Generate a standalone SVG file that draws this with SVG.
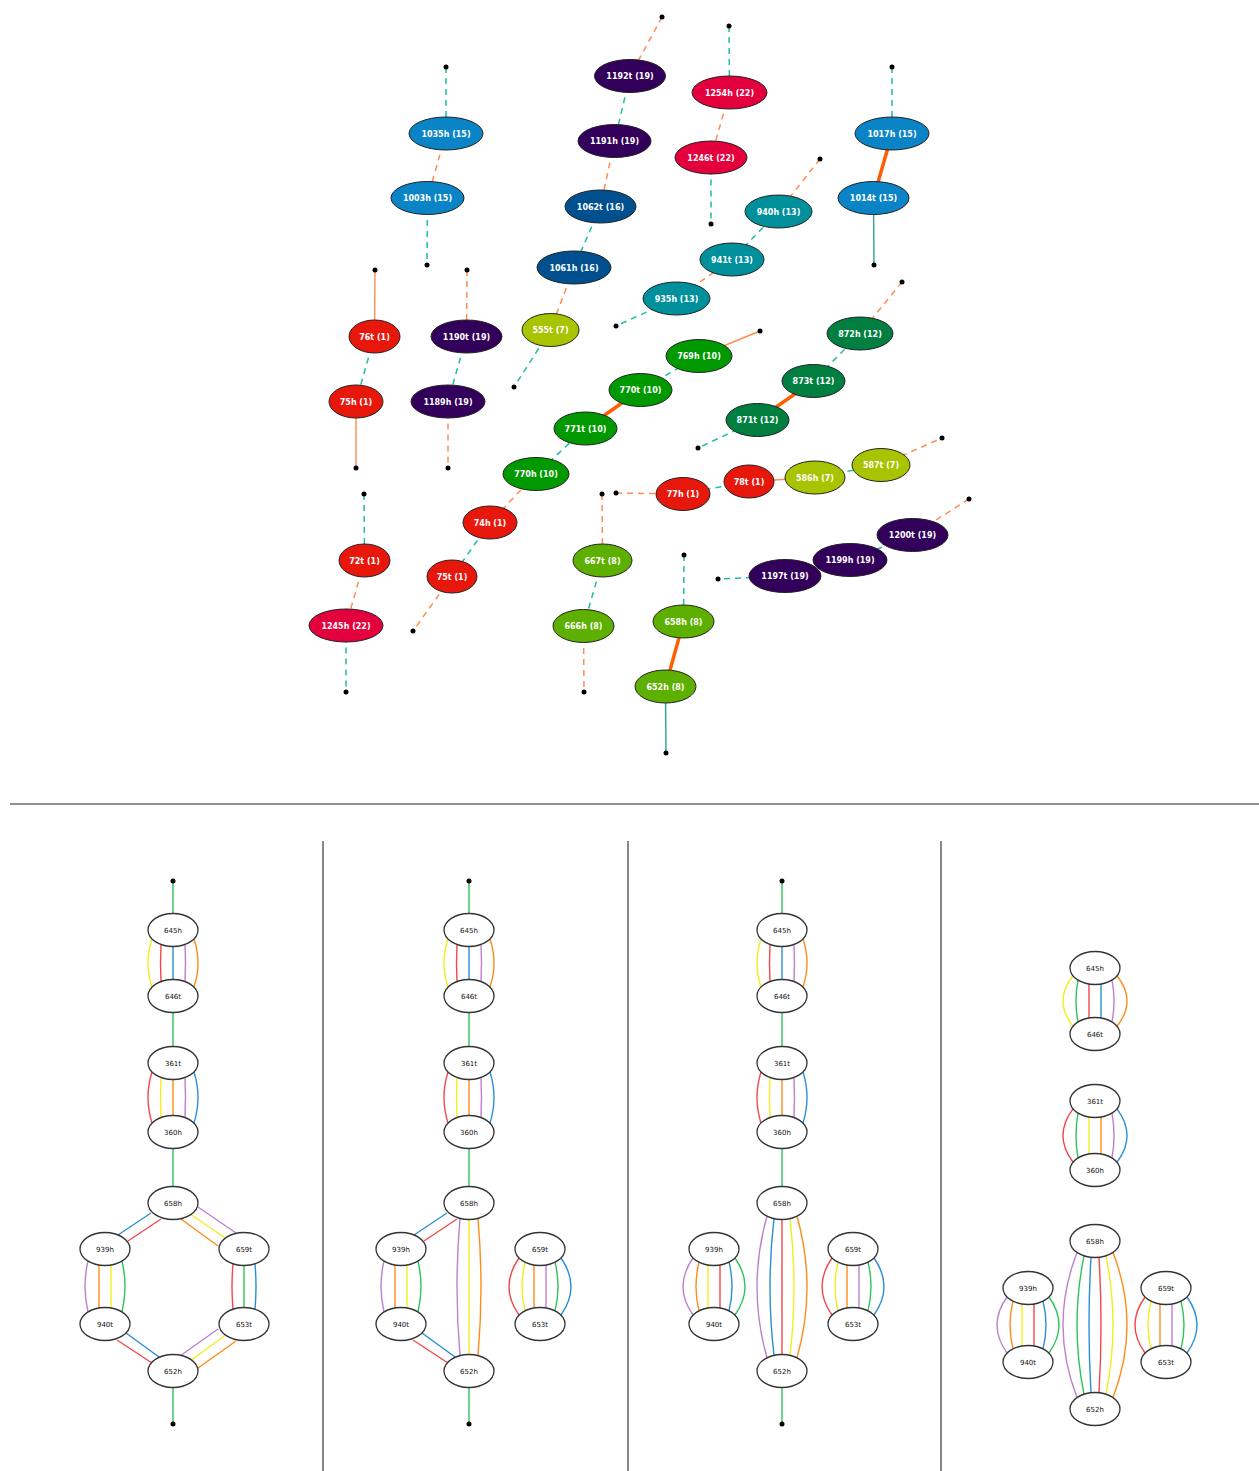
<svg xmlns="http://www.w3.org/2000/svg" width="1259" height="1471" viewBox="0 0 1259 1471">
<style>
.bg{fill:#fff}
.tn ellipse{stroke:#222;stroke-width:1}
.tn text{fill:#fff;font-family:"DejaVu Sans",sans-serif;font-weight:bold;font-size:8px;text-anchor:middle}
.c19{fill:#32005a}.c15{fill:#0a84c6}.c16{fill:#00508f}.c22{fill:#e4003c}.c13{fill:#00909c}
.c12{fill:#007f40}.c10{fill:#009a00}.c1{fill:#e8170c}.c7{fill:#a8c400}.c8{fill:#5eb000}
.od{stroke:#ff8c50;stroke-width:1.5;stroke-dasharray:6 5;fill:none}
.td{stroke:#1fbf9f;stroke-width:1.5;stroke-dasharray:6 5;fill:none}
.os{stroke:#ff8c50;stroke-width:1.4;fill:none}
.ts{stroke:#2aa58f;stroke-width:1.4;fill:none}
.ot{stroke:#ff5f00;stroke-width:3.5;fill:none}
.dot{fill:#000}
.bn ellipse{fill:#fff;stroke:#333;stroke-width:1.3}
.bn text{fill:#111;font-family:"DejaVu Sans",sans-serif;font-size:7px;text-anchor:middle}
.be path{fill:none;stroke-width:1.4}
.y{stroke:#f2ee1a}.r{stroke:#f4474a}.b{stroke:#2b8fd6}.p{stroke:#c27fd0}.o{stroke:#ff8c1a}.g{stroke:#2ec45a}
.sep{stroke:#888;stroke-width:2}
</style>
<rect class="bg" x="0" y="0" width="1259" height="1471"/>

<g id="top-connectors">
<line class="od" x1="662" y1="17" x2="630" y2="76"/>
<line class="td" x1="630" y1="76" x2="614.5" y2="141"/>
<line class="od" x1="614.5" y1="141" x2="600.5" y2="206.5"/>
<line class="td" x1="600.5" y1="206.5" x2="574" y2="267.5"/>
<line class="od" x1="574" y1="267.5" x2="550.5" y2="330"/>
<line class="td" x1="550.5" y1="330" x2="514" y2="387"/>
<line class="td" x1="446" y1="67" x2="446" y2="133.5"/>
<line class="od" x1="446" y1="133.5" x2="427.5" y2="198"/>
<line class="td" x1="427.5" y1="198" x2="427" y2="265"/>
<line class="td" x1="729" y1="26" x2="729.5" y2="92.5"/>
<line class="od" x1="729.5" y1="92.5" x2="711" y2="157.5"/>
<line class="td" x1="711" y1="157.5" x2="711" y2="224"/>
<line class="td" x1="892" y1="67" x2="892" y2="133.5"/>
<line class="ot" x1="892" y1="133.5" x2="873.5" y2="198"/>
<line class="ts" x1="873.5" y1="198" x2="874" y2="265"/>
<line class="od" x1="820" y1="159" x2="778.5" y2="211.5"/>
<line class="td" x1="778.5" y1="211.5" x2="732" y2="259.5"/>
<line class="od" x1="732" y1="259.5" x2="676.5" y2="298.5"/>
<line class="td" x1="676.5" y1="298.5" x2="616" y2="326"/>
<line class="os" x1="375" y1="270" x2="374.5" y2="336.5"/>
<line class="td" x1="374.5" y1="336.5" x2="356" y2="401.5"/>
<line class="os" x1="356" y1="401.5" x2="356" y2="468"/>
<line class="od" x1="467" y1="270" x2="466.5" y2="336.5"/>
<line class="td" x1="466.5" y1="336.5" x2="448" y2="401.5"/>
<line class="od" x1="448" y1="401.5" x2="448" y2="468"/>
<line class="od" x1="902" y1="282" x2="860" y2="333.5"/>
<line class="td" x1="860" y1="333.5" x2="813.5" y2="381"/>
<line class="ot" x1="813.5" y1="381" x2="757.5" y2="420"/>
<line class="td" x1="757.5" y1="420" x2="698" y2="448"/>
<line class="os" x1="760" y1="331" x2="699" y2="356"/>
<line class="td" x1="699" y1="356" x2="640.5" y2="390"/>
<line class="ot" x1="640.5" y1="390" x2="585.5" y2="428.5"/>
<line class="td" x1="585.5" y1="428.5" x2="536" y2="474"/>
<line class="od" x1="536" y1="474" x2="490" y2="522.5"/>
<line class="td" x1="490" y1="522.5" x2="452" y2="576.5"/>
<line class="od" x1="452" y1="576.5" x2="413" y2="631"/>
<line class="td" x1="364" y1="494" x2="364.5" y2="560.5"/>
<line class="od" x1="364.5" y1="560.5" x2="346" y2="625.5"/>
<line class="td" x1="346" y1="625.5" x2="346" y2="692"/>
<line class="od" x1="616" y1="493" x2="683" y2="494"/>
<line class="td" x1="683" y1="494" x2="749" y2="481.5"/>
<line class="os" x1="749" y1="481.5" x2="815" y2="477.5"/>
<line class="td" x1="815" y1="477.5" x2="881" y2="465"/>
<line class="od" x1="881" y1="465" x2="942" y2="438"/>
<line class="od" x1="969" y1="499" x2="912.5" y2="535"/>
<line class="td" x1="912.5" y1="535" x2="850" y2="560"/>
<line class="td" x1="785" y1="576" x2="718" y2="579"/>
<line class="od" x1="602" y1="494" x2="602.5" y2="560.5"/>
<line class="td" x1="602.5" y1="560.5" x2="583.5" y2="626"/>
<line class="od" x1="583.5" y1="626" x2="584" y2="692"/>
<line class="td" x1="684" y1="555" x2="683.5" y2="621.5"/>
<line class="ot" x1="683.5" y1="621.5" x2="665.5" y2="686.5"/>
<line class="ts" x1="665.5" y1="686.5" x2="666" y2="753"/>
</g>

<g id="top-terminals">
<circle class="dot" cx="662" cy="17" r="2.5"/>
<circle class="dot" cx="514" cy="387" r="2.5"/>
<circle class="dot" cx="446" cy="67" r="2.5"/>
<circle class="dot" cx="427" cy="265" r="2.5"/>
<circle class="dot" cx="729" cy="26" r="2.5"/>
<circle class="dot" cx="711" cy="224" r="2.5"/>
<circle class="dot" cx="892" cy="67" r="2.5"/>
<circle class="dot" cx="874" cy="265" r="2.5"/>
<circle class="dot" cx="820" cy="159" r="2.5"/>
<circle class="dot" cx="616" cy="326" r="2.5"/>
<circle class="dot" cx="375" cy="270" r="2.5"/>
<circle class="dot" cx="356" cy="468" r="2.5"/>
<circle class="dot" cx="467" cy="270" r="2.5"/>
<circle class="dot" cx="448" cy="468" r="2.5"/>
<circle class="dot" cx="902" cy="282" r="2.5"/>
<circle class="dot" cx="698" cy="448" r="2.5"/>
<circle class="dot" cx="760" cy="331" r="2.5"/>
<circle class="dot" cx="413" cy="631" r="2.5"/>
<circle class="dot" cx="364" cy="494" r="2.5"/>
<circle class="dot" cx="346" cy="692" r="2.5"/>
<circle class="dot" cx="616" cy="493" r="2.5"/>
<circle class="dot" cx="942" cy="438" r="2.5"/>
<circle class="dot" cx="969" cy="499" r="2.5"/>
<circle class="dot" cx="718" cy="579" r="2.5"/>
<circle class="dot" cx="602" cy="494" r="2.5"/>
<circle class="dot" cx="584" cy="692" r="2.5"/>
<circle class="dot" cx="684" cy="555" r="2.5"/>
<circle class="dot" cx="666" cy="753" r="2.5"/>
</g>

<g id="top-nodes">
<g id="n1192t" class="tn"><ellipse class="c19" cx="630" cy="76" rx="35.5" ry="16.5"/><text x="630" y="79">1192t (19)</text></g>
<g id="n1191h" class="tn"><ellipse class="c19" cx="614.5" cy="141" rx="36.5" ry="16.5"/><text x="614.5" y="144">1191h (19)</text></g>
<g id="n1062t" class="tn"><ellipse class="c16" cx="600.5" cy="206.5" rx="35.5" ry="16.5"/><text x="600.5" y="209.5">1062t (16)</text></g>
<g id="n1061h" class="tn"><ellipse class="c16" cx="574" cy="267.5" rx="37" ry="16.5"/><text x="574" y="270.5">1061h (16)</text></g>
<g id="n555t" class="tn"><ellipse class="c7" cx="550.5" cy="330" rx="28.5" ry="16.5"/><text x="550.5" y="333">555t (7)</text></g>
<g id="n1035h" class="tn"><ellipse class="c15" cx="446" cy="133.5" rx="37" ry="16.5"/><text x="446" y="136.5">1035h (15)</text></g>
<g id="n1003h" class="tn"><ellipse class="c15" cx="427.5" cy="198" rx="36.5" ry="16.5"/><text x="427.5" y="201">1003h (15)</text></g>
<g id="n1254h" class="tn"><ellipse class="c22" cx="729.5" cy="92.5" rx="37.5" ry="16.5"/><text x="729.5" y="95.5">1254h (22)</text></g>
<g id="n1246t" class="tn"><ellipse class="c22" cx="711" cy="157.5" rx="36" ry="16.5"/><text x="711" y="160.5">1246t (22)</text></g>
<g id="n1017h" class="tn"><ellipse class="c15" cx="892" cy="133.5" rx="37" ry="16.5"/><text x="892" y="136.5">1017h (15)</text></g>
<g id="n1014t" class="tn"><ellipse class="c15" cx="873.5" cy="198" rx="35.5" ry="16.5"/><text x="873.5" y="201">1014t (15)</text></g>
<g id="n940h" class="tn"><ellipse class="c13" cx="778.5" cy="211.5" rx="33.5" ry="16.5"/><text x="778.5" y="214.5">940h (13)</text></g>
<g id="n941t" class="tn"><ellipse class="c13" cx="732" cy="259.5" rx="32" ry="16.5"/><text x="732" y="262.5">941t (13)</text></g>
<g id="n935h" class="tn"><ellipse class="c13" cx="676.5" cy="298.5" rx="33.5" ry="16.5"/><text x="676.5" y="301.5">935h (13)</text></g>
<g id="n76t" class="tn"><ellipse class="c1" cx="374.5" cy="336.5" rx="25.5" ry="16.5"/><text x="374.5" y="339.5">76t (1)</text></g>
<g id="n75h" class="tn"><ellipse class="c1" cx="356" cy="401.5" rx="27" ry="16.5"/><text x="356" y="404.5">75h (1)</text></g>
<g id="n1190t" class="tn"><ellipse class="c19" cx="466.5" cy="336.5" rx="35.5" ry="16.5"/><text x="466.5" y="339.5">1190t (19)</text></g>
<g id="n1189h" class="tn"><ellipse class="c19" cx="448" cy="401.5" rx="37" ry="16.5"/><text x="448" y="404.5">1189h (19)</text></g>
<g id="n872h" class="tn"><ellipse class="c12" cx="860" cy="333.5" rx="33" ry="16.5"/><text x="860" y="336.5">872h (12)</text></g>
<g id="n873t" class="tn"><ellipse class="c12" cx="813.5" cy="381" rx="31.5" ry="16.5"/><text x="813.5" y="384">873t (12)</text></g>
<g id="n871t" class="tn"><ellipse class="c12" cx="757.5" cy="420" rx="31.5" ry="16.5"/><text x="757.5" y="423">871t (12)</text></g>
<g id="n769h" class="tn"><ellipse class="c10" cx="699" cy="356" rx="33" ry="16.5"/><text x="699" y="359">769h (10)</text></g>
<g id="n770t" class="tn"><ellipse class="c10" cx="640.5" cy="390" rx="31.5" ry="16.5"/><text x="640.5" y="393">770t (10)</text></g>
<g id="n771t" class="tn"><ellipse class="c10" cx="585.5" cy="428.5" rx="31.5" ry="16.5"/><text x="585.5" y="431.5">771t (10)</text></g>
<g id="n770h" class="tn"><ellipse class="c10" cx="536" cy="474" rx="33" ry="16.5"/><text x="536" y="477">770h (10)</text></g>
<g id="n74h" class="tn"><ellipse class="c1" cx="490" cy="522.5" rx="27" ry="16.5"/><text x="490" y="525.5">74h (1)</text></g>
<g id="n75t" class="tn"><ellipse class="c1" cx="452" cy="576.5" rx="25" ry="16.5"/><text x="452" y="579.5">75t (1)</text></g>
<g id="n72t" class="tn"><ellipse class="c1" cx="364.5" cy="560.5" rx="25.5" ry="16.5"/><text x="364.5" y="563.5">72t (1)</text></g>
<g id="n1245h" class="tn"><ellipse class="c22" cx="346" cy="625.5" rx="37" ry="16.5"/><text x="346" y="628.5">1245h (22)</text></g>
<g id="n77h" class="tn"><ellipse class="c1" cx="683" cy="494" rx="27" ry="16.5"/><text x="683" y="497">77h (1)</text></g>
<g id="n78t" class="tn"><ellipse class="c1" cx="749" cy="481.5" rx="25" ry="16.5"/><text x="749" y="484.5">78t (1)</text></g>
<g id="n586h" class="tn"><ellipse class="c7" cx="815" cy="477.5" rx="30" ry="16.5"/><text x="815" y="480.5">586h (7)</text></g>
<g id="n587t" class="tn"><ellipse class="c7" cx="881" cy="465" rx="29" ry="16.5"/><text x="881" y="468">587t (7)</text></g>
<g id="n1200t" class="tn"><ellipse class="c19" cx="912.5" cy="535" rx="35.5" ry="16.5"/><text x="912.5" y="538">1200t (19)</text></g>
<g id="n1199h" class="tn"><ellipse class="c19" cx="850" cy="560" rx="37" ry="16.5"/><text x="850" y="563">1199h (19)</text></g>
<g id="n1197t" class="tn"><ellipse class="c19" cx="785" cy="576" rx="36" ry="16.5"/><text x="785" y="579">1197t (19)</text></g>
<g id="n667t" class="tn"><ellipse class="c8" cx="602.5" cy="560.5" rx="29.5" ry="16.5"/><text x="602.5" y="563.5">667t (8)</text></g>
<g id="n666h" class="tn"><ellipse class="c8" cx="583.5" cy="626" rx="30.5" ry="16.5"/><text x="583.5" y="629">666h (8)</text></g>
<g id="n658h" class="tn"><ellipse class="c8" cx="683.5" cy="621.5" rx="30.5" ry="16.5"/><text x="683.5" y="624.5">658h (8)</text></g>
<g id="n652h" class="tn"><ellipse class="c8" cx="665.5" cy="686.5" rx="30.5" ry="16.5"/><text x="665.5" y="689.5">652h (8)</text></g>
</g>

<g id="dividers">
<line x1="10" y1="804" x2="1259" y2="804" stroke="#222" stroke-width="1"/>
<line class="sep" x1="323" y1="841" x2="323" y2="1471"/>
<line class="sep" x1="628" y1="841" x2="628" y2="1471"/>
<line class="sep" x1="941" y1="841" x2="941" y2="1471"/>
</g>

<g id="bottom-connectors" class="be">
<!-- panel 1 -->
<path class="g" d="M173 881 L173 930 M173 996 L173 1063 M173 1132 L173 1203 M173 1371 L173 1424"/>
<path class="y" d="M152 939 Q144 963 152 987"/>
<path class="r" d="M161 944.5 Q160 963 161 981.5"/>
<path class="b" d="M173 946.5 L173 979.5"/>
<path class="p" d="M185 944.5 Q186 963 185 981.5"/>
<path class="o" d="M194 939 Q202 963 194 987"/>
<path class="r" d="M152 1072 Q144 1097.5 152 1123"/>
<path class="y" d="M161 1077.5 Q160 1097.5 161 1117.5"/>
<path class="o" d="M173 1079.5 L173 1115.5"/>
<path class="p" d="M185 1077.5 Q186 1097.5 185 1117.5"/>
<path class="b" d="M194 1072 Q202 1097.5 194 1123"/>
<path class="b" d="M151 1213 L118 1235"/>
<path class="r" d="M161 1219 L128 1241"/>
<path class="p" d="M198 1207 L236 1233"/>
<path class="y" d="M190 1214 L227 1239"/>
<path class="o" d="M181 1219 L218 1246"/>
<path class="p" d="M88 1261 Q82 1286.5 88 1312"/>
<path class="o" d="M99 1265 L99 1308"/>
<path class="y" d="M111 1265 L111 1308"/>
<path class="g" d="M122 1261 Q128 1286.5 122 1312"/>
<path class="r" d="M233 1264 Q231 1286.5 233 1309"/>
<path class="g" d="M244 1265.5 L244 1307.5"/>
<path class="b" d="M255 1264 Q257 1286.5 255 1309"/>
<path class="b" d="M126 1333 L159 1357"/>
<path class="r" d="M117 1340 L152 1363"/>
<path class="p" d="M218 1329 L180 1356"/>
<path class="y" d="M227 1334 L190 1361"/>
<path class="o" d="M236 1341 L198 1368"/>
<!-- panel 2 -->
<path class="g" d="M469 881 L469 930 M469 996 L469 1063 M469 1132 L469 1203 M469 1371 L469 1424"/>
<path class="y" d="M448 939 Q440 963 448 987"/>
<path class="r" d="M457 944.5 Q456 963 457 981.5"/>
<path class="b" d="M469 946.5 L469 979.5"/>
<path class="p" d="M481 944.5 Q482 963 481 981.5"/>
<path class="o" d="M490 939 Q498 963 490 987"/>
<path class="r" d="M448 1072 Q440 1097.5 448 1123"/>
<path class="y" d="M457 1077.5 Q456 1097.5 457 1117.5"/>
<path class="o" d="M469 1079.5 L469 1115.5"/>
<path class="p" d="M481 1077.5 Q482 1097.5 481 1117.5"/>
<path class="b" d="M490 1072 Q498 1097.5 490 1123"/>
<path class="b" d="M447 1213 L414 1235"/>
<path class="r" d="M457 1219 L424 1241"/>
<path class="p" d="M384 1261 Q378 1286.5 384 1312"/>
<path class="o" d="M395 1265 L395 1308"/>
<path class="y" d="M407 1265 L407 1308"/>
<path class="g" d="M418 1261 Q424 1286.5 418 1312"/>
<path class="b" d="M422 1333 L455 1357"/>
<path class="r" d="M413 1340 L448 1363"/>
<path class="p" d="M460 1218.4 Q454 1287 460 1355.6"/>
<path class="y" d="M469 1219.5 L469 1354.5"/>
<path class="o" d="M478 1218.4 Q484 1287 478 1355.6"/>
<path class="r" d="M519 1258 Q499 1286.5 519 1315"/>
<path class="y" d="M525 1262.2 Q519 1286.5 525 1310.8"/>
<path class="o" d="M534 1265 L534 1308"/>
<path class="p" d="M546 1265 L546 1308"/>
<path class="g" d="M555 1262.2 Q561 1286.5 555 1310.8"/>
<path class="b" d="M561 1258 Q581 1286.5 561 1315"/>
<!-- panel 3 -->
<path class="g" d="M782 881 L782 930 M782 996 L782 1063 M782 1132 L782 1203 M782 1371 L782 1424"/>
<path class="y" d="M761 939 Q753 963 761 987"/>
<path class="r" d="M770 944.5 Q769 963 770 981.5"/>
<path class="b" d="M782 946.5 L782 979.5"/>
<path class="p" d="M794 944.5 Q795 963 794 981.5"/>
<path class="o" d="M803 939 Q811 963 803 987"/>
<path class="r" d="M761 1072 Q753 1097.5 761 1123"/>
<path class="y" d="M770 1077.5 Q769 1097.5 770 1117.5"/>
<path class="o" d="M782 1079.5 L782 1115.5"/>
<path class="p" d="M794 1077.5 Q795 1097.5 794 1117.5"/>
<path class="b" d="M803 1072 Q811 1097.5 803 1123"/>
<path class="p" d="M767 1216.2 Q747 1287 767 1357.8"/>
<path class="b" d="M774 1218.6 Q766 1287 774 1355.4"/>
<path class="r" d="M782 1219.5 L782 1354.5"/>
<path class="y" d="M790 1218.6 Q798 1287 790 1355.4"/>
<path class="o" d="M797 1216.2 Q817 1287 797 1357.8"/>
<path class="p" d="M693 1258 Q673 1286.5 693 1315"/>
<path class="o" d="M699 1262.2 Q693 1286.5 699 1310.8"/>
<path class="y" d="M708 1265 L708 1308"/>
<path class="r" d="M720 1265 L720 1308"/>
<path class="b" d="M729 1262.2 Q735 1286.5 729 1310.8"/>
<path class="g" d="M735 1258 Q755 1286.5 735 1315"/>
<path class="r" d="M832 1258 Q812 1286.5 832 1315"/>
<path class="y" d="M838 1262.2 Q832 1286.5 838 1310.8"/>
<path class="o" d="M847 1265 L847 1308"/>
<path class="p" d="M859 1265 L859 1308"/>
<path class="g" d="M868 1262.2 Q874 1286.5 868 1310.8"/>
<path class="b" d="M874 1258 Q894 1286.5 874 1315"/>
<!-- panel 4 -->
<path class="y" d="M1073 975.8 Q1053 1001 1073 1026.2"/>
<path class="g" d="M1078 980.1 Q1074 1001 1078 1021.9"/>
<path class="r" d="M1089 984 L1089 1018"/>
<path class="b" d="M1101 984 L1101 1018"/>
<path class="p" d="M1112 980.1 Q1116 1001 1112 1021.9"/>
<path class="o" d="M1117 975.8 Q1137 1001 1117 1026.2"/>
<path class="r" d="M1073 1108.8 Q1053 1135.5 1073 1162.2"/>
<path class="g" d="M1078 1113.1 Q1074 1135.5 1078 1157.9"/>
<path class="y" d="M1089 1117 L1089 1154"/>
<path class="o" d="M1101 1117 L1101 1154"/>
<path class="p" d="M1112 1113.1 Q1116 1135.5 1112 1157.9"/>
<path class="b" d="M1117 1108.8 Q1137 1135.5 1117 1162.2"/>
<path class="p" d="M1077 1252.5 Q1049 1325 1077 1397.5"/>
<path class="g" d="M1084 1255.8 Q1070 1325 1084 1394.2"/>
<path class="b" d="M1091 1257.3 Q1087 1325 1091 1392.7"/>
<path class="r" d="M1099 1257.3 Q1103 1325 1099 1392.7"/>
<path class="y" d="M1106 1255.8 Q1120 1325 1106 1394.2"/>
<path class="o" d="M1113 1252.5 Q1141 1325 1113 1397.5"/>
<path class="p" d="M1007 1297 Q987 1325 1007 1353"/>
<path class="o" d="M1013 1301.2 Q1007 1325 1013 1348.8"/>
<path class="y" d="M1022 1304 L1022 1346"/>
<path class="r" d="M1034 1304 L1034 1346"/>
<path class="b" d="M1043 1301.2 Q1049 1325 1043 1348.8"/>
<path class="g" d="M1049 1297 Q1069 1325 1049 1353"/>
<path class="r" d="M1145 1297 Q1125 1325 1145 1353"/>
<path class="y" d="M1151 1301.2 Q1145 1325 1151 1348.8"/>
<path class="o" d="M1160 1304 L1160 1346"/>
<path class="p" d="M1172 1304 L1172 1346"/>
<path class="g" d="M1181 1301.2 Q1187 1325 1181 1348.8"/>
<path class="b" d="M1187 1297 Q1207 1325 1187 1353"/>
</g>

<g id="bottom-terminals">
<circle class="dot" cx="173" cy="881" r="2.5"/><circle class="dot" cx="173" cy="1424" r="2.5"/>
<circle class="dot" cx="469" cy="881" r="2.5"/><circle class="dot" cx="469" cy="1424" r="2.5"/>
<circle class="dot" cx="782" cy="881" r="2.5"/><circle class="dot" cx="782" cy="1424" r="2.5"/>
</g>

<g id="bottom-nodes">
<g id="p1-645h" class="bn"><ellipse cx="173" cy="930" rx="25" ry="16.5"/><text x="173" y="932.5">645h</text></g>
<g id="p1-646t" class="bn"><ellipse cx="173" cy="996" rx="25" ry="16.5"/><text x="173" y="998.5">646t</text></g>
<g id="p1-361t" class="bn"><ellipse cx="173" cy="1063" rx="25" ry="16.5"/><text x="173" y="1065.5">361t</text></g>
<g id="p1-360h" class="bn"><ellipse cx="173" cy="1132" rx="25" ry="16.5"/><text x="173" y="1134.5">360h</text></g>
<g id="p1-658h" class="bn"><ellipse cx="173" cy="1203" rx="25" ry="16.5"/><text x="173" y="1205.5">658h</text></g>
<g id="p1-939h" class="bn"><ellipse cx="105" cy="1249" rx="25" ry="16.5"/><text x="105" y="1251.5">939h</text></g>
<g id="p1-659t" class="bn"><ellipse cx="244" cy="1249" rx="25" ry="16.5"/><text x="244" y="1251.5">659t</text></g>
<g id="p1-940t" class="bn"><ellipse cx="105" cy="1324" rx="25" ry="16.5"/><text x="105" y="1326.5">940t</text></g>
<g id="p1-653t" class="bn"><ellipse cx="244" cy="1324" rx="25" ry="16.5"/><text x="244" y="1326.5">653t</text></g>
<g id="p1-652h" class="bn"><ellipse cx="173" cy="1371" rx="25" ry="16.5"/><text x="173" y="1373.5">652h</text></g>

<g id="p2-645h" class="bn"><ellipse cx="469" cy="930" rx="25" ry="16.5"/><text x="469" y="932.5">645h</text></g>
<g id="p2-646t" class="bn"><ellipse cx="469" cy="996" rx="25" ry="16.5"/><text x="469" y="998.5">646t</text></g>
<g id="p2-361t" class="bn"><ellipse cx="469" cy="1063" rx="25" ry="16.5"/><text x="469" y="1065.5">361t</text></g>
<g id="p2-360h" class="bn"><ellipse cx="469" cy="1132" rx="25" ry="16.5"/><text x="469" y="1134.5">360h</text></g>
<g id="p2-658h" class="bn"><ellipse cx="469" cy="1203" rx="25" ry="16.5"/><text x="469" y="1205.5">658h</text></g>
<g id="p2-939h" class="bn"><ellipse cx="401" cy="1249" rx="25" ry="16.5"/><text x="401" y="1251.5">939h</text></g>
<g id="p2-659t" class="bn"><ellipse cx="540" cy="1249" rx="25" ry="16.5"/><text x="540" y="1251.5">659t</text></g>
<g id="p2-940t" class="bn"><ellipse cx="401" cy="1324" rx="25" ry="16.5"/><text x="401" y="1326.5">940t</text></g>
<g id="p2-653t" class="bn"><ellipse cx="540" cy="1324" rx="25" ry="16.5"/><text x="540" y="1326.5">653t</text></g>
<g id="p2-652h" class="bn"><ellipse cx="469" cy="1371" rx="25" ry="16.5"/><text x="469" y="1373.5">652h</text></g>

<g id="p3-645h" class="bn"><ellipse cx="782" cy="930" rx="25" ry="16.5"/><text x="782" y="932.5">645h</text></g>
<g id="p3-646t" class="bn"><ellipse cx="782" cy="996" rx="25" ry="16.5"/><text x="782" y="998.5">646t</text></g>
<g id="p3-361t" class="bn"><ellipse cx="782" cy="1063" rx="25" ry="16.5"/><text x="782" y="1065.5">361t</text></g>
<g id="p3-360h" class="bn"><ellipse cx="782" cy="1132" rx="25" ry="16.5"/><text x="782" y="1134.5">360h</text></g>
<g id="p3-658h" class="bn"><ellipse cx="782" cy="1203" rx="25" ry="16.5"/><text x="782" y="1205.5">658h</text></g>
<g id="p3-939h" class="bn"><ellipse cx="714" cy="1249" rx="25" ry="16.5"/><text x="714" y="1251.5">939h</text></g>
<g id="p3-659t" class="bn"><ellipse cx="853" cy="1249" rx="25" ry="16.5"/><text x="853" y="1251.5">659t</text></g>
<g id="p3-940t" class="bn"><ellipse cx="714" cy="1324" rx="25" ry="16.5"/><text x="714" y="1326.5">940t</text></g>
<g id="p3-653t" class="bn"><ellipse cx="853" cy="1324" rx="25" ry="16.5"/><text x="853" y="1326.5">653t</text></g>
<g id="p3-652h" class="bn"><ellipse cx="782" cy="1371" rx="25" ry="16.5"/><text x="782" y="1373.5">652h</text></g>

<g id="p4-645h" class="bn"><ellipse cx="1095" cy="968" rx="25" ry="16.5"/><text x="1095" y="970.5">645h</text></g>
<g id="p4-646t" class="bn"><ellipse cx="1095" cy="1034" rx="25" ry="16.5"/><text x="1095" y="1036.5">646t</text></g>
<g id="p4-361t" class="bn"><ellipse cx="1095" cy="1101" rx="25" ry="16.5"/><text x="1095" y="1103.5">361t</text></g>
<g id="p4-360h" class="bn"><ellipse cx="1095" cy="1170" rx="25" ry="16.5"/><text x="1095" y="1172.5">360h</text></g>
<g id="p4-658h" class="bn"><ellipse cx="1095" cy="1241" rx="25" ry="16.5"/><text x="1095" y="1243.5">658h</text></g>
<g id="p4-939h" class="bn"><ellipse cx="1028" cy="1288" rx="25" ry="16.5"/><text x="1028" y="1290.5">939h</text></g>
<g id="p4-659t" class="bn"><ellipse cx="1166" cy="1288" rx="25" ry="16.5"/><text x="1166" y="1290.5">659t</text></g>
<g id="p4-940t" class="bn"><ellipse cx="1028" cy="1362" rx="25" ry="16.5"/><text x="1028" y="1364.5">940t</text></g>
<g id="p4-653t" class="bn"><ellipse cx="1166" cy="1362" rx="25" ry="16.5"/><text x="1166" y="1364.5">653t</text></g>
<g id="p4-652h" class="bn"><ellipse cx="1095" cy="1409" rx="25" ry="16.5"/><text x="1095" y="1411.5">652h</text></g>
</g>
</svg>
